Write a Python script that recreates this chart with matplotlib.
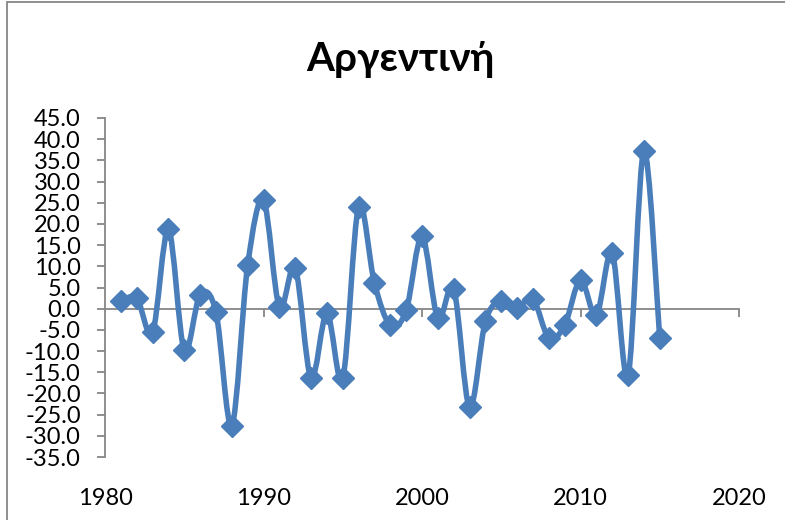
import matplotlib.pyplot as plt
import numpy as np
from matplotlib.path import Path
from matplotlib.patches import PathPatch, Rectangle

# --- Data ---
years = list(range(1981, 2016))
values = [1.7, 2.5, -5.6, 18.7, -9.8, 3.3, -0.8, -27.6, 10.2, 25.6,
          0.4, 9.6, -16.4, -1.0, -16.4, 24.0, 6.0, -3.9, -0.4, 17.1,
          -2.3, 4.7, -23.3, -3.0, 1.9, 0.2, 2.3, -6.9, -3.9, 6.8,
          -1.6, 13.1, -15.7, 37.2, -7.0]
title = "Αργεντινή"
x_ticks = [1980, 1990, 2000, 2010, 2020]
y_ticks = list(range(-35, 50, 5))

BLUE = '#4A7EBB'
GREY = '#868686'


def smooth_path(xs, ys):
    """Excel-like smoothed line: Catmull-Rom turned into cubic Bezier pieces."""
    pts = np.column_stack([xs, ys]).astype(float)
    n = len(pts)
    verts = [pts[0]]
    codes = [Path.MOVETO]
    for i in range(n - 1):
        p0 = pts[i - 1] if i > 0 else pts[i]
        p1 = pts[i]
        p2 = pts[i + 1]
        p3 = pts[i + 2] if i + 2 < n else pts[i + 1]
        c1 = p1 + (p2 - p0) / 6.0
        c2 = p2 - (p3 - p1) / 6.0
        verts += [c1, c2, p2]
        codes += [Path.CURVE4] * 3
    return Path(verts, codes)


fig = plt.figure(figsize=(7.85, 5.2), dpi=100)
ax = fig.add_axes([105 / 785, 1 - 457 / 520, (739 - 105) / 785, (457 - 118) / 520])

ax.add_patch(PathPatch(smooth_path(years, values), fill=False,
                       edgecolor=BLUE, linewidth=4.0, capstyle='round',
                       joinstyle='round', zorder=3))
ax.plot(years, values, linestyle='none', marker='D', markersize=11,
        color=BLUE, zorder=4)

ax.set_xlim(1980, 2020)
ax.set_ylim(-35, 45)
ax.set_yticks(y_ticks)
ax.set_yticklabels([f"{v:.1f}" for v in y_ticks])
ax.set_xticks(x_ticks)
ax.set_xticklabels([str(v) for v in x_ticks])

for side in ['top', 'right', 'bottom']:
    ax.spines[side].set_visible(False)
ax.spines['left'].set_color(GREY)
ax.spines['left'].set_linewidth(1.3)

font = 'Lato'
ax.tick_params(axis='y', direction='out', length=5.5, width=1.3, color=GREY,
               pad=12, labelsize=17, labelfontfamily=font)
ax.tick_params(axis='x', length=0, pad=22, labelsize=17, labelfontfamily=font)

# horizontal axis crossing at zero
sec = ax.secondary_xaxis((0 - (-35)) / 80)
sec.set_xticks(x_ticks[1:])
sec.tick_params(direction='out', length=5.5, width=1.3, color=GREY,
                labelbottom=False)
sec.spines['bottom'].set_color(GREY)
sec.spines['bottom'].set_linewidth(1.3)

fig.text(0.51, 1 - 60 / 520, title, ha='center', va='center', fontsize=29,
         fontweight='bold', family=font)

# chart area border
fig.patches.append(Rectangle((7 / 785, -0.01), 1.0, 1 - 2 / 520 + 0.01,
                             transform=fig.transFigure, fill=False,
                             edgecolor=GREY, linewidth=1.3))

fig.savefig('out.png', dpi=100)
